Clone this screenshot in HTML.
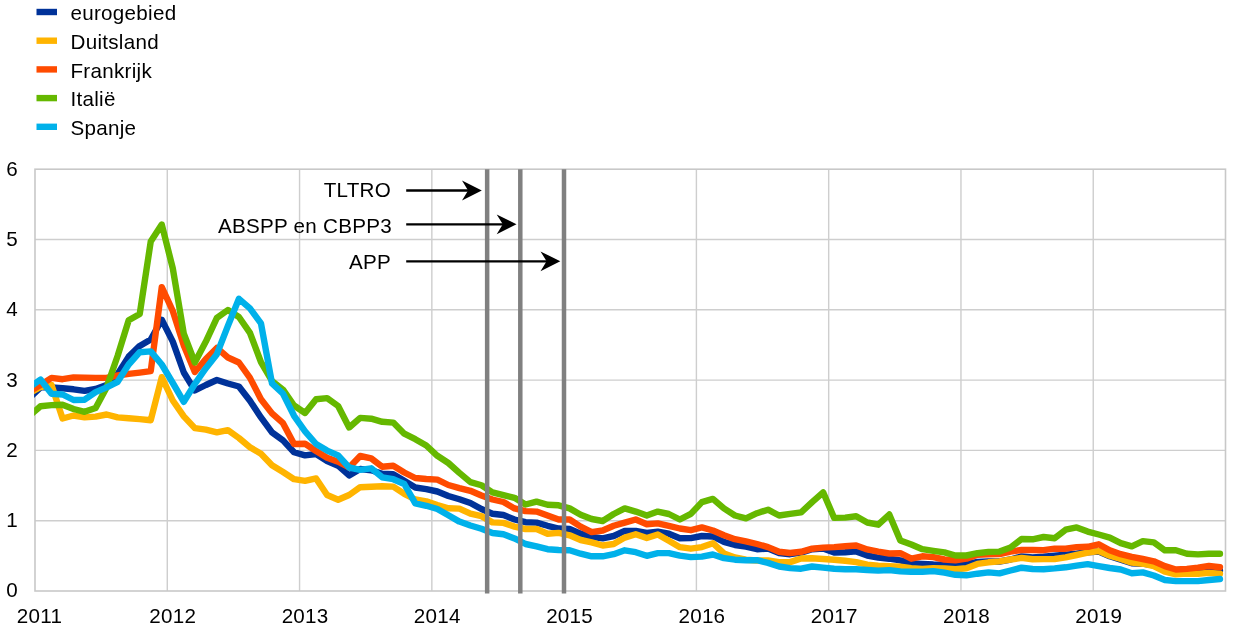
<!DOCTYPE html>
<html lang="nl"><head><meta charset="utf-8"><title>Grafiek</title>
<style>html,body{margin:0;padding:0;background:#fff;}body{width:1240px;height:633px;overflow:hidden;}svg{display:block;will-change:transform;}text{font-family:"Liberation Sans",sans-serif;font-size:20.6px;letter-spacing:0.28px;fill:#000;}</style></head><body>
<svg width="1240" height="633" viewBox="0 0 1240 633">
<rect width="1240" height="633" fill="#fff"/>
<defs><clipPath id="pc"><rect x="34.1" y="164.2" width="1195.5" height="431.8"/></clipPath></defs>
<path d="M35.0 520.70H1225.5M35.0 450.40H1225.5M35.0 380.10H1225.5M35.0 309.80H1225.5M35.0 239.50H1225.5M167.28 169.2V591.0M299.56 169.2V591.0M431.84 169.2V591.0M564.12 169.2V591.0M696.40 169.2V591.0M828.68 169.2V591.0M960.96 169.2V591.0M1093.24 169.2V591.0" stroke="#cecece" stroke-width="1.4" fill="none"/>
<rect x="35.0" y="169.2" width="1190.5" height="421.8" fill="none" stroke="#c8c8c8" stroke-width="1.6"/>
<g clip-path="url(#pc)" fill="none" stroke-width="6.4" stroke-linejoin="round" stroke-linecap="round">
<polyline stroke="#003299" points="29.49,398.0 40.51,387.4 51.53,387.4 62.56,388.2 73.58,389.3 84.60,390.8 95.62,389.0 106.65,385.0 117.67,373.9 128.69,356.6 139.72,345.9 150.74,339.5 161.76,319.8 172.79,341.6 183.81,372.5 194.83,390.5 205.85,385.0 216.88,380.0 227.90,383.5 238.92,386.5 249.95,400.8 260.97,417.4 271.99,432.4 283.02,440.4 294.04,452.2 305.06,455.4 316.08,454.0 327.11,461.0 338.13,465.7 349.15,475.4 360.18,469.0 371.20,470.2 382.22,473.8 393.25,474.2 404.27,480.8 415.29,487.5 426.31,489.1 437.34,491.5 448.36,496.0 459.38,499.2 470.41,503.0 481.43,509.0 492.45,513.7 503.48,515.0 514.50,519.5 525.52,522.2 536.54,522.6 547.57,525.8 558.59,528.5 569.61,529.0 580.64,533.7 591.66,536.8 602.68,538.4 613.71,536.0 624.73,531.0 635.75,531.0 646.77,532.9 657.80,531.6 668.82,533.7 679.84,538.3 690.87,538.1 701.89,536.0 712.91,536.5 723.94,541.9 734.96,545.0 745.98,546.6 757.00,549.2 768.03,548.6 779.05,553.0 790.07,554.2 801.10,552.6 812.12,549.3 823.14,548.6 834.17,552.6 845.19,552.3 856.21,551.4 867.24,555.5 878.26,557.6 889.28,558.7 900.30,560.3 911.33,563.4 922.35,563.9 933.37,564.5 944.40,564.8 955.42,565.0 966.44,564.2 977.46,562.0 988.49,561.5 999.51,561.5 1010.53,559.5 1021.56,556.4 1032.58,557.4 1043.60,556.8 1054.63,555.8 1065.65,554.7 1076.67,553.7 1087.69,552.2 1098.72,551.5 1109.74,556.3 1120.76,559.7 1131.79,563.2 1142.81,563.7 1153.83,565.3 1164.86,570.5 1175.88,573.2 1186.90,572.4 1197.92,571.2 1208.95,570.4 1219.97,570.8"/>
<polyline stroke="#FFB400" points="29.49,393.0 40.51,387.0 51.53,385.0 62.56,418.5 73.58,415.5 84.60,417.4 95.62,416.6 106.65,414.5 117.67,417.4 128.69,418.2 139.72,419.1 150.74,420.3 161.76,377.2 172.79,400.5 183.81,416.3 194.83,428.2 205.85,429.7 216.88,432.4 227.90,430.2 238.92,438.0 249.95,447.2 260.97,453.8 271.99,465.2 283.02,472.0 294.04,479.2 305.06,480.8 316.08,478.4 327.11,495.0 338.13,499.7 349.15,495.0 360.18,487.2 371.20,486.8 382.22,486.2 393.25,486.6 404.27,493.8 415.29,499.5 426.31,501.4 437.34,505.0 448.36,508.2 459.38,508.6 470.41,513.7 481.43,516.1 492.45,522.4 503.48,522.9 514.50,526.6 525.52,529.0 536.54,529.0 547.57,533.7 558.59,532.9 569.61,535.3 580.64,540.0 591.66,542.4 602.68,545.5 613.71,544.0 624.73,537.6 635.75,534.2 646.77,538.0 657.80,534.5 668.82,540.8 679.84,547.2 690.87,548.7 701.89,547.1 712.91,543.2 723.94,553.4 734.96,557.4 745.98,559.7 757.00,560.5 768.03,560.5 779.05,562.1 790.07,562.1 801.10,558.5 812.12,558.2 823.14,559.0 834.17,559.7 845.19,560.8 856.21,562.1 867.24,564.7 878.26,565.7 889.28,566.2 900.30,566.8 911.33,568.1 922.35,568.9 933.37,568.1 944.40,568.4 955.42,569.2 966.44,568.2 977.46,563.9 988.49,562.3 999.51,561.4 1010.53,559.5 1021.56,557.9 1032.58,559.2 1043.60,559.1 1054.63,559.0 1065.65,557.4 1076.67,555.0 1087.69,552.6 1098.72,551.1 1109.74,555.8 1120.76,559.0 1131.79,562.6 1142.81,563.7 1153.83,566.1 1164.86,571.6 1175.88,574.3 1186.90,573.6 1197.92,573.7 1208.95,572.9 1219.97,573.7"/>
<polyline stroke="#FF4B00" points="29.49,391.4 40.51,385.0 51.53,377.9 62.56,379.2 73.58,377.4 84.60,377.6 95.62,377.9 106.65,377.9 117.67,375.5 128.69,373.9 139.72,372.6 150.74,371.2 161.76,287.2 172.79,311.0 183.81,345.5 194.83,372.0 205.85,359.0 216.88,347.9 227.90,357.5 238.92,362.5 249.95,377.9 260.97,399.2 271.99,413.4 283.02,423.2 294.04,444.0 305.06,443.8 316.08,451.0 327.11,457.7 338.13,461.7 349.15,467.4 360.18,456.0 371.20,458.4 382.22,466.7 393.25,465.7 404.27,472.5 415.29,478.0 426.31,479.0 437.34,479.6 448.36,485.0 459.38,488.1 470.41,490.8 481.43,495.5 492.45,499.5 503.48,502.0 514.50,508.4 525.52,511.1 536.54,511.6 547.57,515.5 558.59,519.5 569.61,519.5 580.64,526.6 591.66,532.1 602.68,530.5 613.71,525.8 624.73,522.6 635.75,519.5 646.77,524.2 657.80,523.4 668.82,525.8 679.84,528.5 690.87,530.2 701.89,527.4 712.91,530.5 723.94,535.3 734.96,539.2 745.98,541.3 757.00,544.0 768.03,547.1 779.05,551.8 790.07,553.0 801.10,551.8 812.12,548.7 823.14,547.6 834.17,547.1 845.19,546.3 856.21,545.5 867.24,549.4 878.26,551.6 889.28,553.5 900.30,553.2 911.33,558.7 922.35,556.3 933.37,557.1 944.40,559.5 955.42,560.3 966.44,558.7 977.46,554.7 988.49,554.4 999.51,554.0 1010.53,551.6 1021.56,550.0 1032.58,550.0 1043.60,550.2 1054.63,548.7 1065.65,548.7 1076.67,547.1 1087.69,546.8 1098.72,544.3 1109.74,550.3 1120.76,554.2 1131.79,556.9 1142.81,559.0 1153.83,561.3 1164.86,566.1 1175.88,569.5 1186.90,568.9 1197.92,567.6 1208.95,566.0 1219.97,567.2"/>
<polyline stroke="#65B800" points="29.49,415.7 40.51,406.3 51.53,405.1 62.56,404.7 73.58,409.0 84.60,411.8 95.62,407.9 106.65,387.4 117.67,355.8 128.69,320.3 139.72,313.9 150.74,241.6 161.76,224.5 172.79,268.4 183.81,333.7 194.83,362.5 205.85,341.6 216.88,317.9 227.90,310.0 238.92,317.0 249.95,332.9 260.97,362.1 271.99,381.0 283.02,389.7 294.04,405.5 305.06,413.0 316.08,399.2 327.11,398.1 338.13,406.0 349.15,427.5 360.18,417.9 371.20,418.7 382.22,421.8 393.25,422.6 404.27,433.7 415.29,439.2 426.31,445.5 437.34,455.8 448.36,463.0 459.38,472.9 470.41,482.1 481.43,485.3 492.45,492.4 503.48,495.2 514.50,497.8 525.52,504.5 536.54,501.6 547.57,504.8 558.59,505.3 569.61,508.4 580.64,514.7 591.66,519.0 602.68,521.0 613.71,514.0 624.73,508.4 635.75,511.6 646.77,515.5 657.80,511.6 668.82,514.0 679.84,519.5 690.87,513.9 701.89,502.1 712.91,498.9 723.94,508.4 734.96,515.5 745.98,518.4 757.00,513.2 768.03,509.7 779.05,515.5 790.07,513.9 801.10,512.4 812.12,502.1 823.14,492.3 834.17,517.9 845.19,517.6 856.21,516.3 867.24,522.5 878.26,524.7 889.28,514.5 900.30,540.5 911.33,544.5 922.35,549.2 933.37,550.8 944.40,552.4 955.42,555.5 966.44,555.5 977.46,553.2 988.49,551.9 999.51,551.6 1010.53,547.6 1021.56,539.0 1032.58,539.3 1043.60,537.0 1054.63,538.3 1065.65,529.7 1076.67,527.4 1087.69,531.6 1098.72,534.5 1109.74,537.6 1120.76,543.2 1131.79,546.3 1142.81,541.1 1153.83,542.4 1164.86,550.3 1175.88,550.3 1186.90,553.7 1197.92,554.4 1208.95,553.7 1219.97,553.7"/>
<polyline stroke="#00B1EA" points="29.49,387.3 40.51,379.5 51.53,393.7 62.56,394.5 73.58,400.0 84.60,399.7 95.62,392.1 106.65,387.4 117.67,381.8 128.69,364.5 139.72,352.2 150.74,351.4 161.76,364.5 172.79,383.0 183.81,401.8 194.83,384.0 205.85,368.2 216.88,354.2 227.90,325.8 238.92,298.8 249.95,308.4 260.97,323.4 271.99,383.4 283.02,393.7 294.04,415.8 305.06,431.3 316.08,444.0 327.11,450.6 338.13,455.4 349.15,467.5 360.18,469.8 371.20,468.3 382.22,477.3 393.25,479.2 404.27,484.0 415.29,503.4 426.31,505.8 437.34,509.0 448.36,515.3 459.38,521.6 470.41,525.5 481.43,528.7 492.45,533.0 503.48,534.3 514.50,538.4 525.52,544.0 536.54,546.3 547.57,549.2 558.59,550.0 569.61,550.3 580.64,553.7 591.66,556.3 602.68,556.3 613.71,554.2 624.73,550.3 635.75,552.2 646.77,555.8 657.80,553.1 668.82,553.1 679.84,555.6 690.87,557.1 701.89,556.6 712.91,554.5 723.94,558.2 734.96,559.7 745.98,560.2 757.00,560.2 768.03,562.9 779.05,566.5 790.07,568.1 801.10,568.7 812.12,566.5 823.14,567.6 834.17,568.7 845.19,569.2 856.21,569.2 867.24,570.0 878.26,570.6 889.28,570.1 900.30,571.4 911.33,571.7 922.35,571.7 933.37,571.1 944.40,572.7 955.42,574.8 966.44,575.3 977.46,573.7 988.49,572.4 999.51,573.4 1010.53,570.5 1021.56,567.7 1032.58,569.0 1043.60,569.2 1054.63,568.4 1065.65,567.3 1076.67,565.7 1087.69,564.2 1098.72,566.1 1109.74,568.0 1120.76,569.5 1131.79,573.2 1142.81,572.4 1153.83,575.5 1164.86,580.0 1175.88,581.1 1186.90,581.1 1197.92,581.1 1208.95,580.0 1219.97,579.0"/>
</g>
<line x1="487.15" y1="169.2" x2="487.15" y2="593.6" stroke="#808080" stroke-width="4.5"/>
<line x1="520.3" y1="169.2" x2="520.3" y2="593.6" stroke="#808080" stroke-width="4.5"/>
<line x1="564.0" y1="169.2" x2="564.0" y2="593.6" stroke="#808080" stroke-width="4.5"/>
<line x1="406.2" y1="190.5" x2="471.8" y2="190.5" stroke="#000" stroke-width="2.3"/><path d="M481.8 190.5L462.0 180.6L468.1 190.5L462.0 200.4Z" fill="#000"/>
<line x1="406.2" y1="224.3" x2="506.5" y2="224.3" stroke="#000" stroke-width="2.3"/><path d="M516.5 224.3L496.7 214.4L502.8 224.3L496.7 234.20000000000002Z" fill="#000"/>
<line x1="406.2" y1="261.3" x2="550.3" y2="261.3" stroke="#000" stroke-width="2.3"/><path d="M560.3 261.3L540.5 251.4L546.5999999999999 261.3L540.5 271.2Z" fill="#000"/>
<g text-anchor="end">
<text x="391" y="196.8">TLTRO</text>
<text x="392" y="232.8">ABSPP en CBPP3</text>
<text x="391" y="268.5">APP</text>
</g>
<g text-anchor="end">
<text x="18" y="597.4">0</text>
<text x="18" y="527.1">1</text>
<text x="18" y="456.8">2</text>
<text x="18" y="386.5">3</text>
<text x="18" y="316.2">4</text>
<text x="18" y="245.9">5</text>
<text x="18" y="175.6">6</text>
</g>
<g text-anchor="middle">
<text x="39.5" y="622.6">2011</text>
<text x="172.8" y="622.6">2012</text>
<text x="305.1" y="622.6">2013</text>
<text x="437.3" y="622.6">2014</text>
<text x="569.6" y="622.6">2015</text>
<text x="701.9" y="622.6">2016</text>
<text x="834.2" y="622.6">2017</text>
<text x="966.5" y="622.6">2018</text>
<text x="1098.7" y="622.6">2019</text>
</g>
<rect x="36.5" y="8.8" width="20.5" height="6.4" fill="#003299"/>
<text x="70.5" y="20.3">eurogebied</text>
<rect x="36.5" y="37.5" width="20.5" height="6.4" fill="#FFB400"/>
<text x="70.5" y="49.0">Duitsland</text>
<rect x="36.5" y="66.2" width="20.5" height="6.4" fill="#FF4B00"/>
<text x="70.5" y="77.7">Frankrijk</text>
<rect x="36.5" y="94.9" width="20.5" height="6.4" fill="#65B800"/>
<text x="70.5" y="106.4">Italië</text>
<rect x="36.5" y="123.6" width="20.5" height="6.4" fill="#00B1EA"/>
<text x="70.5" y="135.1">Spanje</text>
</svg></body></html>
